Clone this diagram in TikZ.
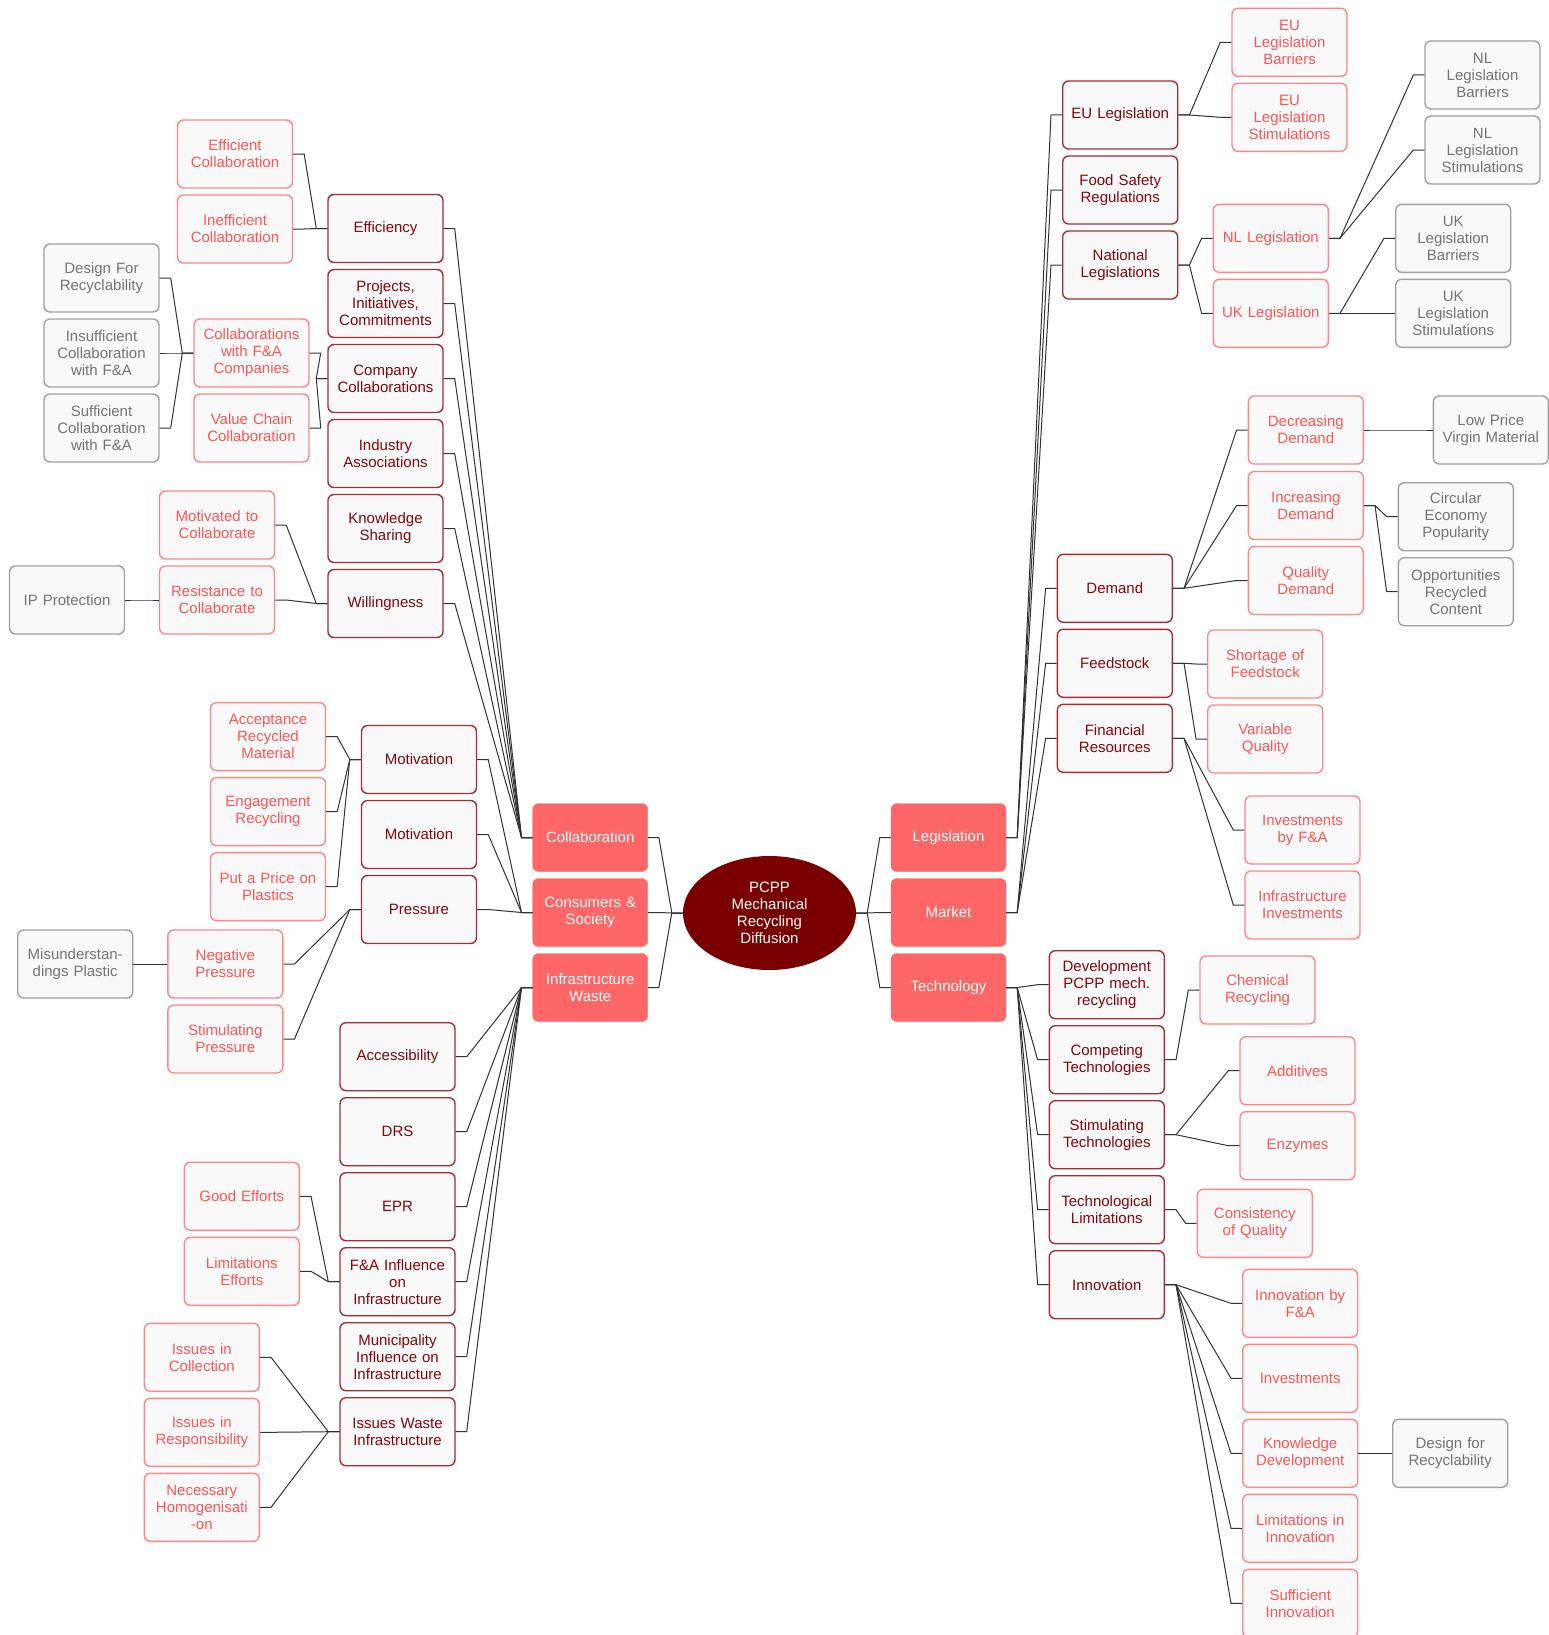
\documentclass[tikz,border=0pt]{standalone}
\usepackage{fontspec}
\setmainfont{Liberation Sans}
\usetikzlibrary{calc,shapes.geometric}
\definecolor{lvlone}{RGB}{255,102,102}
\definecolor{rootc}{RGB}{122,0,0}
\definecolor{twoline}{RGB}{165,45,50}
\definecolor{twotext}{RGB}{130,5,10}
\definecolor{threeline}{RGB}{255,135,135}
\definecolor{threetext}{RGB}{255,85,85}
\definecolor{fourline}{RGB}{160,160,160}
\definecolor{fourtext}{RGB}{115,115,115}
\definecolor{boxfill}{RGB}{249,249,249}
\definecolor{conncol}{RGB}{50,50,50}
\tikzset{
 base/.style={rectangle, rounded corners=6pt, minimum width=115pt, minimum height=68pt, text width=110pt, inner sep=2.5pt, align=center, font=\fontsize{15}{17}\selectfont},
 lone/.style={base, fill=lvlone, text=white, draw=lvlone},
 ltwo/.style={base, fill=boxfill, draw=twoline, line width=1.4pt, text=twotext},
 lthree/.style={base, fill=boxfill, draw=threeline, line width=1.4pt, text=threetext},
 lfour/.style={base, fill=boxfill, draw=fourline, line width=1.4pt, text=fourtext},
 rootnode/.style={ellipse, fill=rootc, text=white, minimum width=173pt, minimum height=114pt, inner sep=0pt, align=center, font=\fontsize{15}{17}\selectfont},
 conn/.style={draw=conncol, line width=1pt},
}
\newcommand\edR[2]{\draw[conn] (#1.east) -- ++(11,0) -- ($(#2.west)+(-11,0)$) -- (#2.west);}
\newcommand\edL[2]{\draw[conn] (#1.west) -- ++(-11,0) -- ($(#2.east)+(11,0)$) -- (#2.east);}
\begin{document}
\begin{tikzpicture}[x=1pt,y=-1pt]
\useasboundingbox (0,0) rectangle (1548,1635);
\fill[white] (0,0) rectangle (1548,1635);
% root
\node[rootnode] (root) at (769.5,913) {PCPP\\Mechanical\\Recycling\\Diffusion};
% level 1
\node[lone] (collab) at (590.2,837.5) {Collaboration};
\node[lone] (consum) at (590.2,912.5) {Consumers \&\\Society};
\node[lone] (infra) at (590.2,987.5) {Infrastructure\\Waste};
\node[lone] (legis) at (948.5,837.5) {Legislation};
\node[lone] (market) at (948.5,912.5) {Market};
\node[lone] (techn) at (948.5,987.5) {Technology};
% collaboration children
\node[ltwo] (effic) at (385.5,228.5) {Efficiency};
\node[ltwo] (proj) at (385.5,303.5) {Projects,\\Initiatives,\\Commitments};
\node[ltwo] (company) at (385.5,378.5) {Company\\Collaborations};
\node[ltwo] (industry) at (385.5,453.5) {Industry\\Associations};
\node[ltwo] (knowsh) at (385.5,528.5) {Knowledge\\Sharing};
\node[ltwo] (willing) at (385.5,603.5) {Willingness};
\node[lthree] (efficol) at (235,154) {Efficient\\Collaboration};
\node[lthree] (ineffcol) at (235,229) {Inefficient\\Collaboration};
\node[lthree] (colfa) at (251.5,353) {Collaborations\\with F\&A\\Companies};
\node[lthree] (valch) at (251.5,428) {Value Chain\\Collaboration};
\node[lfour] (designfr) at (101.5,278) {Design For\\Recyclability};
\node[lfour] (insuff) at (101.5,353) {Insufficient\\Collaboration\\with F\&A};
\node[lfour] (suff) at (101.5,428) {Sufficient\\Collaboration\\with F\&A};
\node[lthree] (motcol) at (217,525) {Motivated to\\Collaborate};
\node[lthree] (rescol) at (217,600) {Resistance to\\Collaborate};
\node[lfour] (ipprot) at (67,600) {IP Protection};
% consumers children
\node[ltwo] (motiv) at (419,759.5) {Motivation};
\node[ltwo] (motivb) at (419,834.5) {Motivation};
\node[ltwo] (press) at (419,909.5) {Pressure};
\node[lthree] (accept) at (268,736.6) {Acceptance\\Recycled\\Material};
\node[lthree] (engage) at (268,811.6) {Engagement\\Recycling};
\node[lthree] (price) at (268,886.6) {Put a Price on\\Plastics};
\node[lthree] (negpr) at (225.3,964) {Negative\\Pressure};
\node[lthree] (stimpr) at (225.3,1039) {Stimulating\\Pressure};
\node[lfour] (misund) at (75.2,964) {Misunderstan-\\dings Plastic};
% infrastructure children
\node[ltwo] (access) at (397.5,1056.7) {Accessibility};
\node[ltwo] (drs) at (397.5,1131.7) {DRS};
\node[ltwo] (epr) at (397.5,1206.7) {EPR};
\node[ltwo] (fainfl) at (397.5,1281.7) {F\&A Influence\\on\\Infrastructure};
\node[ltwo] (munic) at (397.5,1356.7) {Municipality\\Influence on\\Infrastructure};
\node[ltwo] (issuesw) at (397.5,1431.7) {Issues Waste\\Infrastructure};
\node[lthree] (goodeff) at (241.8,1196.3) {Good Efforts};
\node[lthree] (limeff) at (241.8,1271.3) {Limitations\\Efforts};
\node[lthree] (isscoll) at (201.8,1357.3) {Issues in\\Collection};
\node[lthree] (issresp) at (201.8,1432.3) {Issues in\\Responsibility};
\node[lthree] (homog) at (201.8,1507.3) {Necessary\\Homogenisati\\-on};
% legislation children
\node[ltwo] (eulegis) at (1120.2,115) {EU Legislation};
\node[ltwo] (foodsafe) at (1120.2,190) {Food Safety\\Regulations};
\node[ltwo] (national) at (1120.2,265) {National\\Legislations};
\node[lthree] (eubarr) at (1289.5,42.3) {EU\\Legislation\\Barriers};
\node[lthree] (eustim) at (1289.5,117.3) {EU\\Legislation\\Stimulations};
\node[lthree] (nllegis) at (1270.8,238.3) {NL Legislation};
\node[lthree] (uklegis) at (1270.8,313.3) {UK Legislation};
\node[lfour] (nlbarr) at (1482.5,75) {NL\\Legislation\\Barriers};
\node[lfour] (nlstim) at (1482.5,150) {NL\\Legislation\\Stimulations};
\node[lfour] (ukbarr) at (1453.2,238.3) {UK\\Legislation\\Barriers};
\node[lfour] (ukstim) at (1453.2,313.3) {UK\\Legislation\\Stimulations};
% market children
\node[ltwo] (demand) at (1114.8,588.3) {Demand};
\node[ltwo] (feeds) at (1114.8,663.3) {Feedstock};
\node[ltwo] (financ) at (1114.8,738.3) {Financial\\Resources};
\node[lthree] (decdem) at (1305.8,430) {Decreasing\\Demand};
\node[lthree] (incdem) at (1305.8,505.5) {Increasing\\Demand};
\node[lthree] (qualdem) at (1305.8,580.5) {Quality\\Demand};
\node[lfour] (lowprice) at (1490.8,430) {Low Price\\Virgin Material};
\node[lfour] (circular) at (1455.8,516.7) {Circular\\Economy\\Popularity};
\node[lfour] (opport) at (1455.8,591.7) {Opportunities\\Recycled\\Content};
\node[lthree] (shortage) at (1265.2,664) {Shortage of\\Feedstock};
\node[lthree] (varqual) at (1265.2,739) {Variable\\Quality};
\node[lthree] (invfa) at (1302.5,830) {Investments\\by F\&A};
\node[lthree] (infrainv) at (1302.5,905) {Infrastructure\\Investments};
% technology children
\node[ltwo] (develop) at (1106.8,984.7) {Development\\PCPP mech.\\recycling};
\node[ltwo] (compet) at (1106.8,1059.7) {Competing\\Technologies};
\node[ltwo] (stimtech) at (1106.8,1134.7) {Stimulating\\Technologies};
\node[ltwo] (techlim) at (1106.8,1209.7) {Technological\\Limitations};
\node[ltwo] (innov) at (1106.8,1284.7) {Innovation};
\node[lthree] (chemrec) at (1257.5,990) {Chemical\\Recycling};
\node[lthree] (additiv) at (1297.5,1070.7) {Additives};
\node[lthree] (enzym) at (1297.5,1145.7) {Enzymes};
\node[lthree] (consist) at (1254.8,1223.3) {Consistency\\of Quality};
\node[lthree] (innovfa) at (1300.2,1303.3) {Innovation by\\F\&A};
\node[lthree] (invest) at (1300.2,1378.3) {Investments};
\node[lthree] (knowdev) at (1300.2,1453.3) {Knowledge\\Development};
\node[lthree] (liminn) at (1300.2,1528.3) {Limitations in\\Innovation};
\node[lthree] (suffinn) at (1300.2,1603.3) {Sufficient\\Innovation};
\node[lfour] (designr) at (1450.2,1453.3) {Design for\\Recyclability};
% connectors left
\edL{root}{collab}\edL{root}{consum}\edL{root}{infra}
\edL{collab}{effic}\edL{collab}{proj}\edL{collab}{company}\edL{collab}{industry}\edL{collab}{knowsh}\edL{collab}{willing}
\edL{effic}{efficol}\edL{effic}{ineffcol}
\edL{company}{colfa}\edL{company}{valch}
\edL{colfa}{designfr}\edL{colfa}{insuff}\edL{colfa}{suff}
\edL{willing}{motcol}\edL{willing}{rescol}
\edL{rescol}{ipprot}
\edL{consum}{motiv}\edL{consum}{motivb}\edL{consum}{press}
\edL{motiv}{accept}\edL{motiv}{engage}\edL{motiv}{price}
\edL{press}{negpr}\edL{press}{stimpr}
\edL{negpr}{misund}
\edL{infra}{access}\edL{infra}{drs}\edL{infra}{epr}\edL{infra}{fainfl}\edL{infra}{munic}\edL{infra}{issuesw}
\edL{fainfl}{goodeff}\edL{fainfl}{limeff}
\edL{issuesw}{isscoll}\edL{issuesw}{issresp}\edL{issuesw}{homog}
% connectors right
\edR{root}{legis}\edR{root}{market}\edR{root}{techn}
\edR{legis}{eulegis}\edR{legis}{foodsafe}\edR{legis}{national}
\edR{eulegis}{eubarr}\edR{eulegis}{eustim}
\edR{national}{nllegis}\edR{national}{uklegis}
\edR{nllegis}{nlbarr}\edR{nllegis}{nlstim}
\edR{uklegis}{ukbarr}\edR{uklegis}{ukstim}
\edR{market}{demand}\edR{market}{feeds}\edR{market}{financ}
\edR{demand}{decdem}\edR{demand}{incdem}\edR{demand}{qualdem}
\edR{decdem}{lowprice}
\edR{incdem}{circular}\edR{incdem}{opport}
\edR{feeds}{shortage}\edR{feeds}{varqual}
\edR{financ}{invfa}\edR{financ}{infrainv}
\edR{techn}{develop}\edR{techn}{compet}\edR{techn}{stimtech}\edR{techn}{techlim}\edR{techn}{innov}
\edR{compet}{chemrec}
\edR{stimtech}{additiv}\edR{stimtech}{enzym}
\edR{techlim}{consist}
\edR{innov}{innovfa}\edR{innov}{invest}\edR{innov}{knowdev}\edR{innov}{liminn}\edR{innov}{suffinn}
\edR{knowdev}{designr}
\end{tikzpicture}
\end{document}
